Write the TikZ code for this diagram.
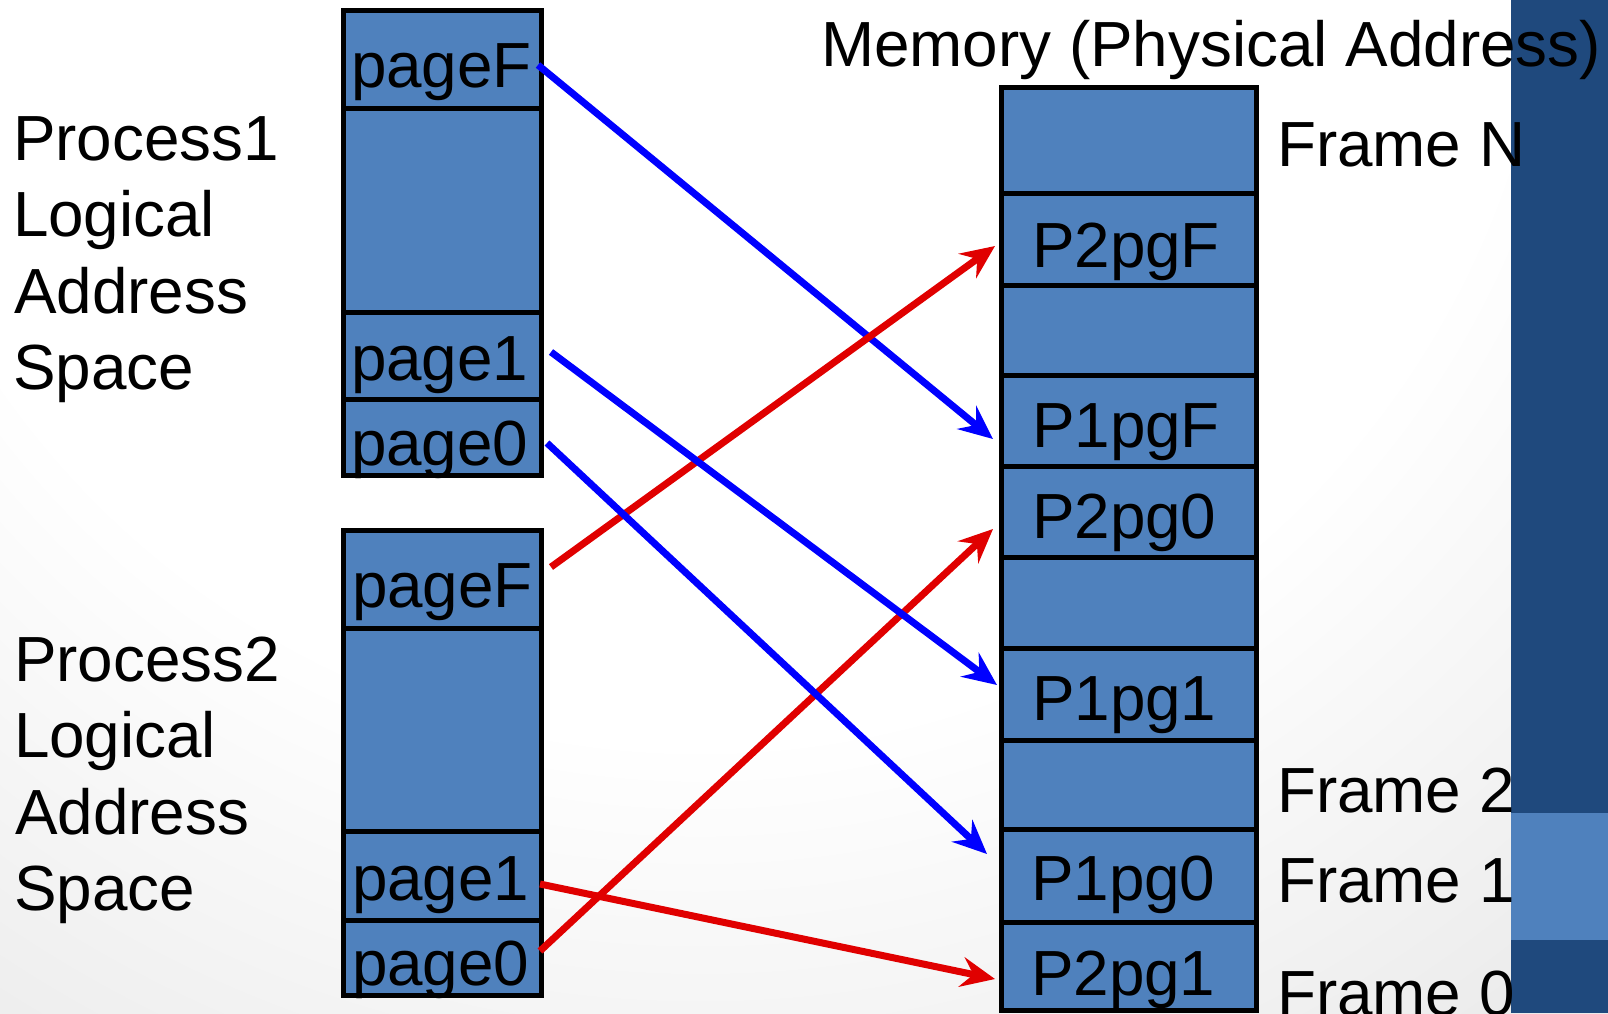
\documentclass[tikz,border=0pt]{standalone}
\usepackage{fontspec}
\setmainfont{Liberation Sans}
\usetikzlibrary{arrows.meta}
\definecolor{cellblue}{RGB}{79,129,189}
\definecolor{banddark}{RGB}{31,73,125}
\definecolor{arrowblue}{RGB}{0,0,255}
\definecolor{arrowred}{RGB}{224,0,0}
\pgfdeclareradialshading{vign}{\pgfpoint{0bp}{0bp}}{color(0bp)=(white); color(15bp)=(white); color(25bp)=(black!8); color(50bp)=(black!8)}
\begin{document}
\begin{tikzpicture}[x=1pt,y=-1pt,
  cell/.style={draw=black, line width=5pt, fill=cellblue, inner sep=0pt, outer sep=0pt, anchor=north west},
  lbl/.style={anchor=base west, inner sep=0pt, outer sep=0pt, font=\fontsize{63.8}{76}\selectfont},
  conn/.style={line width=7pt, -{Stealth[length=34pt,width=30pt,inset=12pt]}},
  bconn/.style={conn, draw=arrowblue, fill=arrowblue},
  rconn/.style={conn, draw=arrowred, fill=arrowred}]
\useasboundingbox (0,0) rectangle (1608,1013);
% background
\shade[shading=vign] (-700,-1500) rectangle (2100,1300);
\fill[banddark] (1511,0) rectangle (1608,1013);
\fill[cellblue] (1511,813) rectangle (1608,940);

% Process 1 logical address space
\node[cell, minimum width=198pt, minimum height=98pt] (p1F) at (343,10) {};
\node[cell, minimum width=198pt, minimum height=204pt] (p1G) at (343,108) {};
\node[cell, minimum width=198pt, minimum height=87pt] (p1one) at (343,312) {};
\node[cell, minimum width=198pt, minimum height=76pt] (p1zero) at (343,399) {};
\node[lbl] (t1F) at (351,87) {pageF};
\node[lbl] (t1one) at (351,380) {page1};
\node[lbl] (t1zero) at (351,465) {page0};
\draw[line width=5pt] (p1F.north west) rectangle (p1zero.south east);

% Process 2 logical address space
\node[cell, minimum width=198pt, minimum height=98pt] (p2F) at (343,530) {};
\node[cell, minimum width=198pt, minimum height=203pt] (p2G) at (343,628) {};
\node[cell, minimum width=198pt, minimum height=89pt] (p2one) at (343,831) {};
\node[cell, minimum width=198pt, minimum height=75pt] (p2zero) at (343,920) {};
\node[lbl] (t2F) at (352,607) {pageF};
\node[lbl] (t2one) at (352,900) {page1};
\node[lbl] (t2zero) at (352,985) {page0};
\draw[line width=5pt] (p2F.north west) rectangle (p2zero.south east);

% Memory
\node[cell, minimum width=255pt, minimum height=106pt] (m9) at (1001,87) {};
\node[cell, minimum width=255pt, minimum height=92pt] (m8) at (1001,193) {};
\node[cell, minimum width=255pt, minimum height=90pt] (m7) at (1001,285) {};
\node[cell, minimum width=255pt, minimum height=91pt] (m6) at (1001,375) {};
\node[cell, minimum width=255pt, minimum height=91pt] (m5) at (1001,466) {};
\node[cell, minimum width=255pt, minimum height=91pt] (m4) at (1001,557) {};
\node[cell, minimum width=255pt, minimum height=92pt] (m3) at (1001,648) {};
\node[cell, minimum width=255pt, minimum height=89pt] (m2) at (1001,740) {};
\node[cell, minimum width=255pt, minimum height=93pt] (m1) at (1001,829) {};
\node[cell, minimum width=255pt, minimum height=88pt] (m0) at (1001,922) {};
\node[lbl] (tm8) at (1032,267) {P2pgF};
\node[lbl] (tm6) at (1032,447) {P1pgF};
\node[lbl] (tm5) at (1032,538) {P2pg0};
\node[lbl] (tm3) at (1032,720) {P1pg1};
\node[lbl] (tm1) at (1031,900) {P1pg0};
\node[lbl] (tm0) at (1031,995) {P2pg1};

% titles
\node[lbl] (memtitle) at (821,66) {Memory (Physical Address)};
\node[lbl] (frN) at (1277,166) {Frame N};
\node[lbl] (fr2) at (1277,812) {Frame 2};
\node[lbl] (fr1) at (1277,902) {Frame 1};
\node[lbl] (fr0) at (1277,1015) {Frame 0};

\node[lbl] (pa1) at (13,160) {Process1};
\node[lbl] (pa2) at (13,236.5) {Logical};
\node[lbl] (pa3) at (14,313) {Address};
\node[lbl] (pa4) at (13,389.5) {Space};
\node[lbl] (pb1) at (14,681) {Process2};
\node[lbl] (pb2) at (14,757) {Logical};
\node[lbl] (pb3) at (15,834) {Address};
\node[lbl] (pb4) at (14,910) {Space};

% connector ends
\coordinate (b1s) at (538,65);  \coordinate (b1e) at (993,439);
\coordinate (b2s) at (551,352); \coordinate (b2e) at (997,685);
\coordinate (b3s) at (547,443); \coordinate (b3e) at (987,854);
\coordinate (r1s) at (551,567); \coordinate (r1e) at (995,246);
\coordinate (r2s) at (540,951); \coordinate (r2e) at (993,529);
\coordinate (r3s) at (540,884); \coordinate (r3e) at (995,979);

\draw[bconn] (b1s) -- (b1e);
\draw[rconn] (r1s) -- (r1e);
\draw[rconn] (r2s) -- (r2e);
\draw[rconn] (r3s) -- (r3e);
\draw[bconn] (b2s) -- (b2e);
\draw[bconn] (b3s) -- (b3e);
\end{tikzpicture}
\end{document}
